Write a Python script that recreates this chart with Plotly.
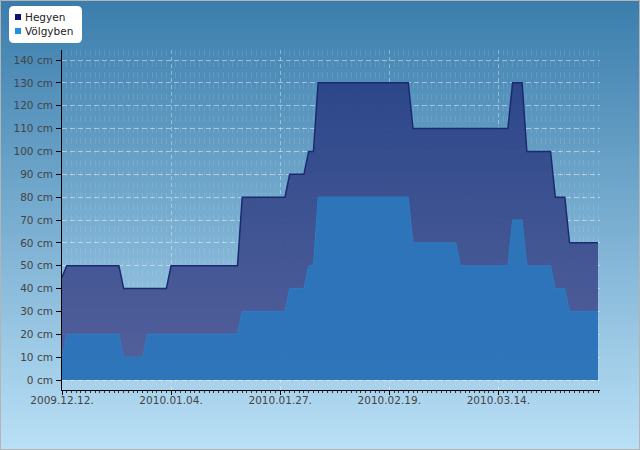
import pandas as pd
import plotly.graph_objects as go

# ---------------- data ----------------
start_date = "2009-12-12"
n_days = 114
dates = pd.date_range(start_date, periods=n_days, freq="D")

hegyen = [
    45,
    50, 50, 50, 50, 50, 50, 50, 50, 50, 50, 50, 50,
    40, 40, 40, 40, 40, 40, 40, 40, 40, 40,
    50, 50, 50, 50, 50, 50, 50, 50, 50, 50, 50, 50, 50, 50, 50,
    80, 80, 80, 80, 80, 80, 80, 80, 80, 80,
    90, 90, 90, 90,
    100, 100,
    130, 130, 130, 130, 130, 130, 130, 130, 130, 130,
    130, 130, 130, 130, 130, 130, 130, 130, 130, 130,
    110, 110, 110, 110, 110, 110, 110, 110, 110, 110, 110,
    110, 110, 110, 110, 110, 110, 110, 110, 110, 110,
    130, 130, 130,
    100, 100, 100, 100, 100, 100,
    80, 80, 80,
    60, 60, 60, 60, 60, 60, 60,
]

volgyben = [
    10,
    20, 20, 20, 20, 20, 20, 20, 20, 20, 20, 20, 20,
    10, 10, 10, 10, 10,
    20, 20, 20, 20, 20, 20, 20, 20, 20, 20,
    20, 20, 20, 20, 20, 20, 20, 20, 20, 20,
    30, 30, 30, 30, 30, 30, 30, 30, 30, 30,
    40, 40, 40, 40,
    50, 50,
    80, 80, 80, 80, 80, 80, 80, 80, 80, 80,
    80, 80, 80, 80, 80, 80, 80, 80, 80, 80,
    60, 60, 60, 60, 60, 60, 60, 60, 60, 60,
    50, 50, 50, 50, 50, 50, 50, 50, 50, 50, 50,
    70, 70, 70,
    50, 50, 50, 50, 50, 50,
    40, 40, 40,
    30, 30, 30, 30, 30, 30, 30,
]

series_names = ["Hegyen", "Völgyben"]
y_ticks = [0, 10, 20, 30, 40, 50, 60, 70, 80, 90, 100, 110, 120, 130, 140]
y_tick_text = [f"{v} cm" for v in y_ticks]

# ---------------- layout geometry ----------------
W, H = 640, 450
ML, MR, MT, MB = 62, 40, 50, 60
PW, PH = W - ML - MR, H - MT - MB


def xp(px):
    return (px - ML) / PW


def yp(py):
    return (H - MB - py) / PH


FONT = "DejaVu Sans"

fig = go.Figure()

fig.add_trace(go.Scatter(
    x=dates, y=hegyen, name=series_names[0], mode="lines",
    fill="tozeroy",
    fillgradient=dict(type="vertical", start=0, stop=140,
                      colorscale=[[0, "rgba(78,88,150,0.93)"],
                                  [1, "rgba(38,64,132,0.93)"]]),
    line=dict(color="#1b2a6e", width=1.5),
    showlegend=False, hoverinfo="skip",
))
fig.add_trace(go.Scatter(
    x=dates, y=volgyben, name=series_names[1], mode="lines",
    fill="tozeroy", fillcolor="rgba(44,118,188,0.93)",
    line=dict(color="#2e7cc2", width=1),
    showlegend=False, hoverinfo="skip",
))

shapes = []
# background gradient
top = (58, 125, 172)
bot = (186, 224, 246)
step = 3
for i in range(0, H, step):
    t = (i + step / 2) / H
    c = tuple(round(top[k] + (bot[k] - top[k]) * t) for k in range(3))
    shapes.append(dict(type="rect", xref="paper", yref="paper",
                       x0=xp(0), x1=xp(W), y0=yp(i), y1=yp(min(i + step, H)),
                       fillcolor="rgb(%d,%d,%d)" % c, line=dict(width=0),
                       layer="below"))

# outer border
shapes.append(dict(type="rect", xref="paper", yref="paper",
                   x0=xp(0.5), x1=xp(W - 0.5), y0=yp(0.5), y1=yp(H - 0.5),
                   line=dict(color="#b4b4b4", width=1), layer="above"))

# legend box (rounded)
bx0, by0, bx1, by1, r = 9, 6, 82, 43, 5
rx, ry = r / PW, r / PH
X0, X1, Y0, Y1 = xp(bx0), xp(bx1), yp(by1), yp(by0)
path = (f"M {X0+rx},{Y0} L {X1-rx},{Y0} Q {X1},{Y0} {X1},{Y0+ry} "
        f"L {X1},{Y1-ry} Q {X1},{Y1} {X1-rx},{Y1} L {X0+rx},{Y1} "
        f"Q {X0},{Y1} {X0},{Y1-ry} L {X0},{Y0+ry} Q {X0},{Y0} {X0+rx},{Y0} Z")
shapes.append(dict(type="path", xref="paper", yref="paper", path=path,
                   fillcolor="white", line=dict(width=0), layer="above"))

legend_colors = ["#10116a", "#1f90dc"]
legend_y = [17, 31]
annotations = []
for name, col, ly in zip(series_names, legend_colors, legend_y):
    shapes.append(dict(type="rect", xref="paper", yref="paper",
                       x0=xp(15), x1=xp(21), y0=yp(ly + 3), y1=yp(ly - 3),
                       fillcolor=col, line=dict(width=0), layer="above"))
    annotations.append(dict(x=xp(23), y=yp(ly), xref="paper", yref="paper",
                            text=name, showarrow=False, xanchor="left",
                            yanchor="middle",
                            font=dict(family=FONT, size=10.5, color="#222")))

px_per_day = (598 - ML) / (n_days - 1)
x_end = pd.Timestamp(start_date) + pd.Timedelta(days=PW / px_per_day)

fig.update_layout(
    width=W, height=H,
    margin=dict(l=ML, r=MR, t=MT, b=MB),
    paper_bgcolor="rgb(120,175,210)",
    plot_bgcolor="rgba(0,0,0,0)",
    shapes=shapes, annotations=annotations,
    showlegend=False,
    font=dict(family=FONT, size=10, color="#444"),
)

fig.update_xaxes(
    type="date",
    range=[pd.Timestamp(start_date), x_end],
    tick0=start_date, dtick=23 * 86400000,
    tickformat="%Y.%m.%d.",
    ticks="outside", ticklen=4, tickcolor="#000",
    ticklabelstandoff=-4,
    showline=True, linecolor="#000", linewidth=1,
    showgrid=True, gridcolor="rgba(255,255,255,0.38)", griddash="4px,3px",
    gridwidth=1,
    minor=dict(dtick=86400000, ticks="outside", ticklen=2, tickcolor="#333",
               showgrid=True, gridcolor="rgba(255,255,255,0.11)",
               griddash="6px,5px", gridwidth=1),
    tickfont=dict(family=FONT, size=10.5, color="#444"),
    zeroline=False, fixedrange=True,
)
fig.update_yaxes(
    range=[-4.375, 144.375],
    tickmode="array", tickvals=y_ticks, ticktext=y_tick_text,
    ticks="outside", ticklen=5, tickcolor="#000",
    ticklabelstandoff=1,
    showline=True, linecolor="#000", linewidth=1,
    showgrid=True, gridcolor="rgba(255,255,255,0.45)", griddash="5px,3px",
    gridwidth=1,
    tickfont=dict(family=FONT, size=10.5, color="#444"),
    zeroline=False, fixedrange=True,
)

fig.write_html("out.html")
